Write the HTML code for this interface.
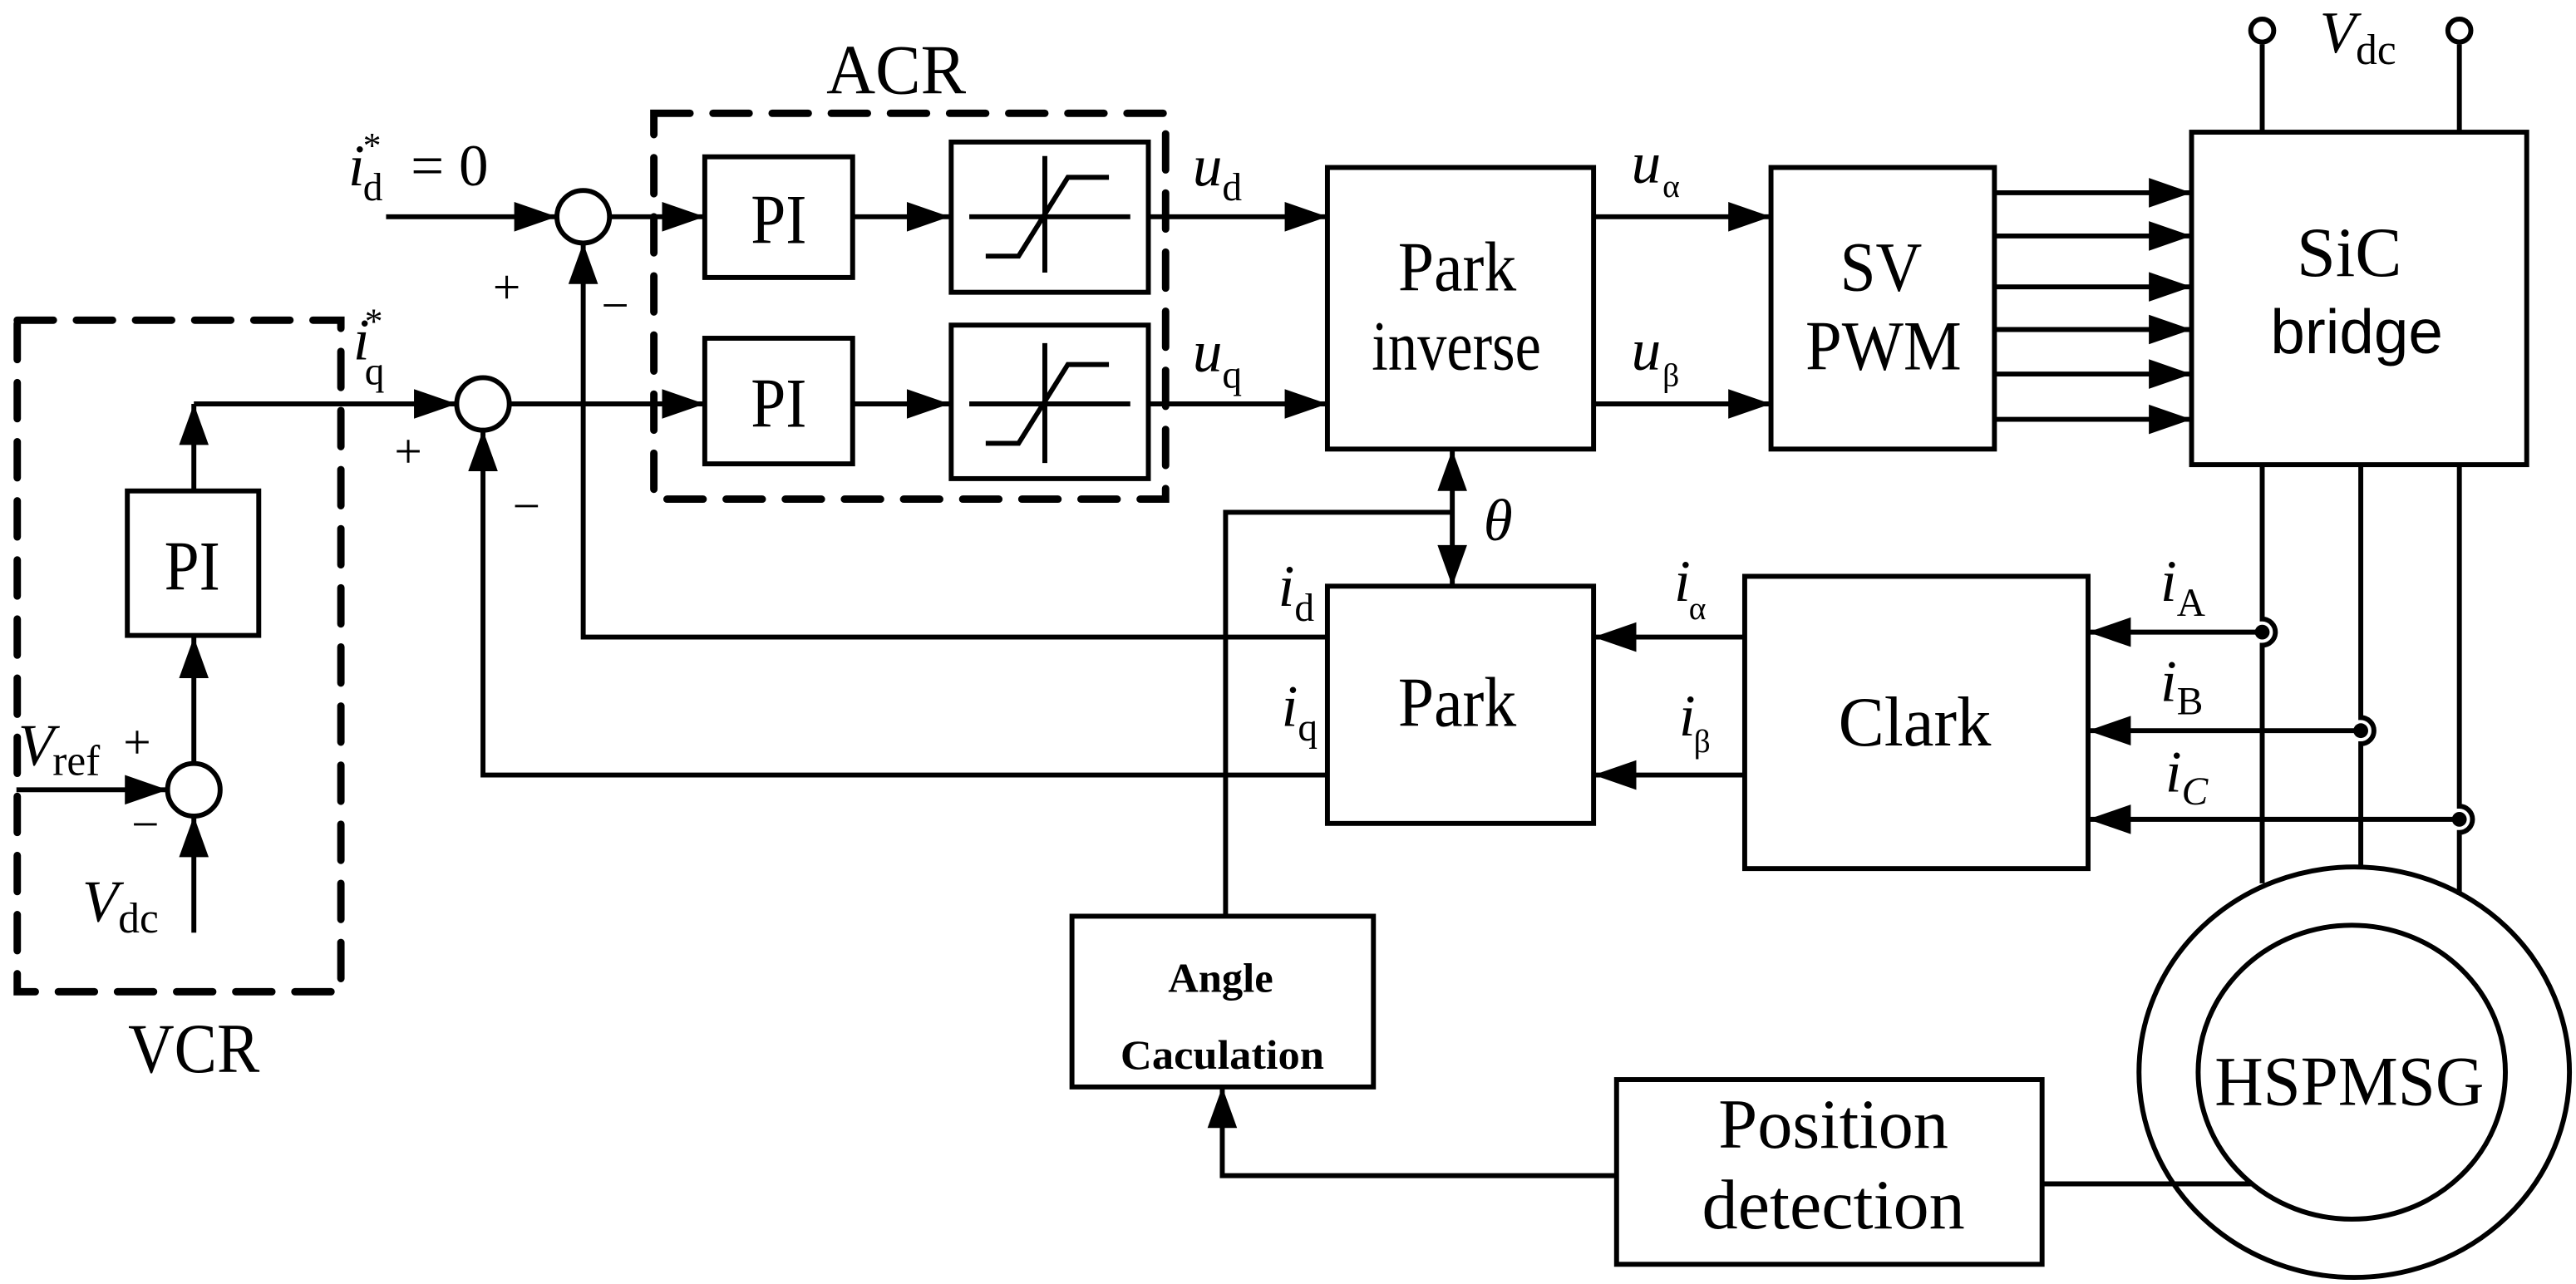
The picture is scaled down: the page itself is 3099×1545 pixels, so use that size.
<!DOCTYPE html>
<html><head><meta charset="utf-8"><style>
html,body{margin:0;padding:0;background:#fff;}
svg{display:block;}
text{font-family:"Liberation Serif",serif;fill:#000;}
</style></head><body>
<svg width="3099" height="1545" viewBox="0 0 1568 782" preserveAspectRatio="none" xmlns="http://www.w3.org/2000/svg">
<g fill="none" stroke="#000" stroke-width="3" stroke-linejoin="miter">
<!-- dashed boxes -->
<rect x="398" y="69" width="311.5" height="235" stroke-width="4.5" stroke-dasharray="22 14" stroke-linecap="round"/>
<rect x="10.5" y="195" width="197" height="409" stroke-width="4.5" stroke-dasharray="22 14" stroke-linecap="round"/>
<!-- blocks -->
<rect x="429" y="95.5" width="90" height="73.5"/>
<rect x="579" y="86.5" width="120" height="91.5"/>
<rect x="429" y="206" width="90" height="76.5"/>
<rect x="579" y="198" width="120" height="93.5"/>
<rect x="77.5" y="299" width="80" height="88"/>
<rect x="808" y="102" width="162" height="171.5"/>
<rect x="1078" y="102" width="136" height="171.5"/>
<rect x="1334" y="80.5" width="204" height="202.5"/>
<rect x="808" y="357" width="162" height="144.5"/>
<rect x="1062" y="351" width="209" height="178"/>
<rect x="652.5" y="558" width="183.5" height="104"/>
<rect x="984" y="657.5" width="259" height="112.5"/>
<!-- sum circles -->
<circle cx="355" cy="132" r="16"/>
<circle cx="294" cy="246" r="16"/>
<circle cx="118" cy="481" r="16"/>
<!-- saturation symbols -->
<path d="M590 132H688M636 95V166M600 156H620L650 108H675"/>
<path d="M590 246H688M636 209V282M600 270H620L650 222H675"/>
<!-- lines -->
<path d="M235 132H339M371 132H429M519 132H579M699 132H808"/>
<path d="M118 246H278M310 246H429M519 246H579M699 246H808"/>
<path d="M355 148V388H808"/>
<path d="M294 262V472H808"/>
<path d="M118 246V299M118 388V465M10 481H102M118 568V497"/>
<path d="M746 558V312H884M884 274V357"/>
<path d="M970 132H1078M970 246H1078"/>
<path d="M1214 117.4H1334M1214 143.7H1334M1214 174.7H1334M1214 200.7H1334M1214 227.8H1334M1214 255.4H1334"/>
<path d="M1377 27V80.5M1497 27V80.5"/>
<path d="M1377 283V377A8 8 0 0 1 1377 393V538"/>
<path d="M1437 283V437A8 8 0 0 1 1437 453V528"/>
<path d="M1497 283V491A8 8 0 0 1 1497 507V545"/>
<path d="M1062 388H970M1062 472H970"/>
<path d="M1377 385H1271M1437 445H1271M1497 499H1271"/>
<path d="M744 662V716H984M1243 721H1371"/>
<circle cx="1377" cy="18.6" r="7"/>
<circle cx="1497" cy="18.6" r="7"/>
<!-- motor -->
<ellipse cx="1433" cy="653" rx="131" ry="125"/>
<ellipse cx="1431.5" cy="653" rx="93.5" ry="89.5"/>
</g>
<g fill="#000">
<circle cx="1377" cy="385" r="4.5"/>
<circle cx="1437" cy="445" r="4.5"/>
<circle cx="1497" cy="499" r="4.5"/>
<polygon points="339,132 313,123 313,141"/>
<polygon points="429,132 403,123 403,141"/>
<polygon points="578,132 552,123 552,141"/>
<polygon points="808,132 782,123 782,141"/>
<polygon points="278,246 252,237 252,255"/>
<polygon points="429,246 403,237 403,255"/>
<polygon points="578,246 552,237 552,255"/>
<polygon points="808,246 782,237 782,255"/>
<polygon points="102,481 76,472 76,490"/>
<polygon points="1078,132 1052,123 1052,141"/>
<polygon points="1078,246 1052,237 1052,255"/>
<polygon points="1334,117.4 1308,108.4 1308,126.4"/>
<polygon points="1334,143.7 1308,134.7 1308,152.7"/>
<polygon points="1334,174.7 1308,165.7 1308,183.7"/>
<polygon points="1334,200.7 1308,191.7 1308,209.7"/>
<polygon points="1334,227.8 1308,218.8 1308,236.8"/>
<polygon points="1334,255.4 1308,246.4 1308,264.4"/>
<polygon points="355,148 346,173 364,173"/>
<polygon points="294,262 285,287 303,287"/>
<polygon points="118,246 109,271 127,271"/>
<polygon points="118,388 109,413 127,413"/>
<polygon points="118,497 109,522 127,522"/>
<polygon points="884,274 875,299 893,299"/>
<polygon points="744,662 735,687 753,687"/>
<polygon points="884,357 875,332 893,332"/>
<polygon points="970,388 996,379 996,397"/>
<polygon points="970,472 996,463 996,481"/>
<polygon points="1271,385 1297,376 1297,394"/>
<polygon points="1271,445 1297,436 1297,454"/>
<polygon points="1271,499 1297,490 1297,508"/>
</g>
<!-- labels -->
<g font-size="43" lengthAdjust="spacingAndGlyphs">
<text x="503" y="57" textLength="85" lengthAdjust="spacingAndGlyphs">ACR</text>
<text x="78" y="653" textLength="80" lengthAdjust="spacingAndGlyphs">VCR</text>
<text x="457" y="148" textLength="34" lengthAdjust="spacingAndGlyphs">PI</text>
<text x="457" y="260" textLength="34" lengthAdjust="spacingAndGlyphs">PI</text>
<text x="100" y="359" textLength="34" lengthAdjust="spacingAndGlyphs">PI</text>
<text x="851" y="177" textLength="72" lengthAdjust="spacingAndGlyphs">Park</text>
<text x="835" y="225" textLength="103" lengthAdjust="spacingAndGlyphs">inverse</text>
<text x="1120" y="177" textLength="50" lengthAdjust="spacingAndGlyphs">SV</text>
<text x="1099" y="225" textLength="95" lengthAdjust="spacingAndGlyphs">PWM</text>
<text x="1398" y="168" textLength="64" lengthAdjust="spacingAndGlyphs">SiC</text>
<text x="1382" y="215" textLength="105" lengthAdjust="spacingAndGlyphs" style="font-family:'Liberation Sans',sans-serif" font-size="38">bridge</text>
<text x="851" y="442" textLength="72" lengthAdjust="spacingAndGlyphs">Park</text>
<text x="1119" y="454" textLength="93" lengthAdjust="spacingAndGlyphs">Clark</text>
<text x="1348" y="673" textLength="164" lengthAdjust="spacingAndGlyphs">HSPMSG</text>
<text x="1046" y="699" textLength="140" lengthAdjust="spacingAndGlyphs">Position</text>
<text x="1036" y="748" textLength="160" lengthAdjust="spacingAndGlyphs">detection</text>
</g>
<g font-size="25" font-weight="bold">
<text x="711" y="604" textLength="64" lengthAdjust="spacingAndGlyphs">Angle</text>
<text x="682" y="651" textLength="124" lengthAdjust="spacingAndGlyphs">Caculation</text>
</g>
<g font-size="30">
<text x="300" y="185">+</text>
<text x="366" y="196">−</text>
<text x="240" y="285">+</text>
<text x="312" y="318">−</text>
<text x="75" y="462">+</text>
<text x="80" y="512">−</text>
</g>
<g font-size="36">
<text x="212" y="113" font-style="italic">i</text>
<text x="221" y="122" font-size="24">d</text>
<text x="221" y="96" font-size="22">*</text>
<text x="250" y="113">= 0</text>
<text x="215" y="219" font-style="italic">i</text>
<text x="222" y="234" font-size="24">q</text>
<text x="222" y="203" font-size="22">*</text>
<text x="11" y="466" font-style="italic">V</text>
<text x="32" y="472" font-size="26">ref</text>
<text x="50" y="561" font-style="italic">V</text>
<text x="72" y="568" font-size="26">dc</text>
<text x="1412" y="32" font-style="italic">V</text>
<text x="1434" y="39" font-size="26">dc</text>
<text x="726" y="113" font-style="italic">u</text>
<text x="744" y="122" font-size="24">d</text>
<text x="726" y="226" font-style="italic">u</text>
<text x="744" y="236" font-size="24">q</text>
<text x="993" y="111" font-style="italic">u</text>
<text x="1012" y="120" font-size="20">α</text>
<text x="993" y="225" font-style="italic">u</text>
<text x="1012" y="235" font-size="20">β</text>
<text x="903" y="329" font-style="italic">θ</text>
<text x="778" y="369" font-style="italic">i</text>
<text x="788" y="378" font-size="24">d</text>
<text x="780" y="442" font-style="italic">i</text>
<text x="790" y="451" font-size="24">q</text>
<text x="1019" y="366" font-style="italic">i</text>
<text x="1028" y="377" font-size="20">α</text>
<text x="1022" y="448" font-style="italic">i</text>
<text x="1031" y="458" font-size="20">β</text>
<text x="1315" y="366" font-style="italic">i</text>
<text x="1325" y="375" font-size="24">A</text>
<text x="1315" y="427" font-style="italic">i</text>
<text x="1325" y="435" font-size="24">B</text>
<text x="1318" y="482" font-style="italic">i</text>
<text x="1328" y="490" font-size="24" font-style="italic">C</text>
</g>
</svg>
</body></html>
